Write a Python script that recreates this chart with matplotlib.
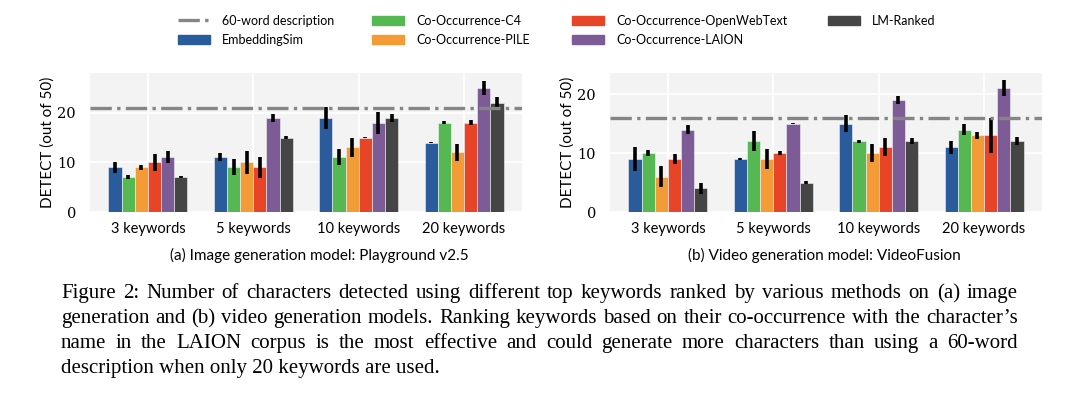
import numpy as np
import matplotlib
matplotlib.use('Agg')
from matplotlib import pyplot as plt
from matplotlib.patches import Patch
from matplotlib.lines import Line2D

plt.rcParams['font.family'] = ['Lato', 'DejaVu Sans']

groups = ['3 keywords', '5 keywords', '10 keywords', '20 keywords']
methods = ['EmbeddingSim', 'Co-Occurrence-C4', 'Co-Occurrence-PILE',
           'Co-Occurrence-OpenWebText', 'Co-Occurrence-LAION', 'LM-Ranked']
colors = ['#2a5b9c', '#55b853', '#f39b37', '#e84427', '#7d5b96', '#454545']

# (a) image generation model
img_vals = [[9, 11, 19, 14],
            [7, 9, 11, 18],
            [9, 10, 13, 12],
            [10, 9, 15, 18],
            [11, 19, 18, 25],
            [7, 15, 19, 22]]
img_err = [[1.1, 0.8, 2.2, 0.1],
           [0.4, 1.6, 1.6, 0.3],
           [0.5, 2.3, 1.9, 1.7],
           [1.7, 2.1, 0.1, 0.5],
           [1.2, 0.8, 2.2, 1.4],
           [0.2, 0.3, 0.8, 1.1]]
img_ref = 21

# (b) video generation model
vid_vals = [[9, 9, 15, 11],
            [10, 12, 12, 14],
            [6, 9, 10, 13],
            [9, 10, 11, 13],
            [14, 15, 19, 21],
            [4, 5, 12, 12]]
vid_err = [[2.0, 0.15, 1.4, 1.1],
           [0.5, 1.7, 0.3, 1.0],
           [1.75, 1.75, 1.5, 0.6],
           [0.8, 0.4, 1.5, 3.0],
           [0.7, 0.1, 0.65, 1.35],
           [0.9, 0.2, 0.5, 0.65]]
vid_ref = 16

caption = [
    "Figure 2: Number of characters detected using different top keywords ranked by various methods on (a) image",
    "generation and (b) video generation models. Ranking keywords based on their co-occurrence with the character\u2019s",
    "name in the LAION corpus is the most effective and could generate more characters than using a 60-word",
    "description when only 20 keywords are used.",
]

W, H = 1080, 394
fig = plt.figure(figsize=(W / 100, H / 100), dpi=100)


def draw_panel(ax, vals, err, ref, ymax):
    ax.set_facecolor('#f3f3f3')
    for s in ax.spines.values():
        s.set_visible(False)
    x = np.arange(len(groups))
    w = 0.125
    for i in range(len(methods)):
        ax.bar(x + (i - 2.5) * w, vals[i], w, color=colors[i],
               edgecolor='#f3f3f3', linewidth=0.4, zorder=2)
        ax.errorbar(x + (i - 2.5) * w, vals[i], yerr=err[i], fmt='none',
                    ecolor='black', elinewidth=2.6, capsize=0, zorder=3)
    ax.axhline(ref, color='#858585', ls='-.', lw=2.4, zorder=4)
    ax.set_xlim(-0.55, 3.55)
    ax.set_ylim(0, ymax)
    ax.set_xticks(x)
    ax.set_xticklabels(groups, fontsize=10.5)
    ax.set_yticks([0, 10, 20])
    ax.set_yticklabels(['0', '10', '20'], fontsize=10.5, family='DejaVu Serif')
    ax.tick_params(axis='x', length=0, pad=7)
    ax.tick_params(axis='y', length=0, pad=10)
    ax.grid(color='white', lw=1.3, zorder=0)
    ax.set_axisbelow(True)
    ax.set_ylabel('DETECT (out of 50)', fontsize=11, labelpad=2)


ax1 = fig.add_axes([90 / W, 182 / H, 432 / W, 139 / H])
draw_panel(ax1, img_vals, img_err, img_ref, 28)
ax2 = fig.add_axes([610 / W, 182 / H, 432 / W, 139 / H])
draw_panel(ax2, vid_vals, vid_err, vid_ref, 23.6)

fig.text(319 / W, 1 - 255 / H, '(a) Image generation model: Playground v2.5',
         ha='center', va='center', fontsize=11)
fig.text(824 / W, 1 - 255 / H, '(b) Video generation model: VideoFusion',
         ha='center', va='center', fontsize=11)

# legend: four columns placed separately
handles = [Line2D([], [], color='#858585', ls='-.', lw=2.4)]
handles += [Patch(color=c) for c in colors]
labels = ['60-word description'] + methods
columns = [[0, 1], [2, 3], [4, 5], [6]]
col_x = [178, 372, 572, 828]
for idx, cx in zip(columns, col_x):
    fig.legend([handles[i] for i in idx], [labels[i] for i in idx],
               loc='upper left', bbox_to_anchor=(cx / W, 1 - 15 / H),
               frameon=False, fontsize=9, borderpad=0, borderaxespad=0,
               handlelength=2.56, handleheight=0.8, handletextpad=0.96,
               labelspacing=0.55)

# caption, justified line by line
fig.canvas.draw()
renderer = fig.canvas.get_renderer()
x_left, x_right = 61 / W, 1018 / W
cap_font = dict(family='Liberation Serif', fontsize=15, va='baseline', ha='left')
for k, line in enumerate(caption):
    y = 1 - (298 + 25 * k) / H
    if k == len(caption) - 1:
        fig.text(x_left, y, line, **cap_font)
        continue
    words = line.split(' ')
    objs = [fig.text(0, y, wd, **cap_font) for wd in words]
    widths = [o.get_window_extent(renderer).width / W for o in objs]
    gap = (x_right - x_left - sum(widths)) / (len(words) - 1)
    pos = x_left
    for o, wdt in zip(objs, widths):
        o.set_x(pos)
        pos += wdt + gap

fig.savefig('out.png', dpi=100)
plt.close(fig)
